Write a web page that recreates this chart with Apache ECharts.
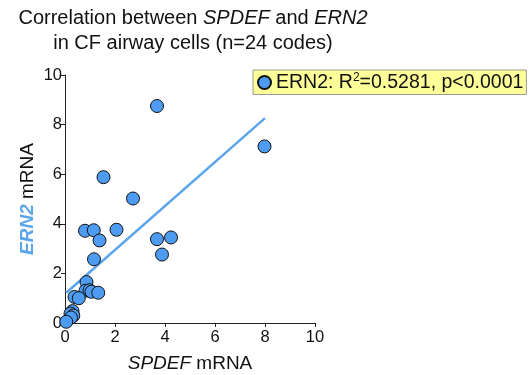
<!DOCTYPE html>
<html>
<head>
<meta charset="utf-8">
<script src="https://cdn.jsdelivr.net/npm/echarts@6/dist/echarts.min.js"></script>
<style>
  html, body { margin: 0; padding: 0; background: #fff; }
  #main { width: 529px; height: 375px; }
</style>
</head>
<body>
<div id="main"></div>
<script>
// SPDEF vs ERN2 mRNA
var spdef = [3.68, 7.98, 1.54, 2.72, 0.80, 1.15, 2.06, 1.38, 3.68, 4.24, 3.88, 1.16,
             0.86, 0.82, 0.98, 1.06, 1.33, 0.38, 0.55, 0.30, 0.22, 0.33, 0.24, 0.05];
var ern2 = [8.75, 7.12, 5.88, 5.02, 3.72, 3.74, 3.76, 3.33, 3.38, 3.45, 2.76, 2.57,
            1.65, 1.30, 1.32, 1.26, 1.22, 1.05, 1.00, 0.48, 0.38, 0.30, 0.22, 0.05];
// regression line end points
var fitX = [0.05, 8.0];
var fitY = [1.22, 8.26];
var axisTicks = [0, 2, 4, 6, 8, 10];

var font = 'Liberation Sans, Arial, sans-serif';

var points = spdef.map(function(x, i) { return [x, ern2[i]]; });
var fitLine = fitX.map(function(x, i) { return [x, fitY[i]]; });

var myChart = echarts.init(document.getElementById('main'));

var option = {
    animation: false,
    backgroundColor: '#fff',
    title: {
        text: 'Correlation between {i|SPDEF} and {i|ERN2}\nin CF airway cells (n=24 codes)',
        left: 188,
        top: 1,
        textAlign: 'center',
        textStyle: {
            fontFamily: font,
            fontSize: 20,
            fontWeight: 'normal',
            color: '#111',
            lineHeight: 25,
            rich: {
                i: { fontFamily: font, fontSize: 20, fontStyle: 'italic', color: '#111' }
            }
        }
    },
    legend: {
        data: ['ERN2'],
        left: 253,
        top: 70,
        padding: [2, 3, 2, 4],
        backgroundColor: '#ffff99',
        borderColor: '#999',
        borderWidth: 1,
        borderRadius: 0,
        itemWidth: 13,
        itemHeight: 13,
        itemGap: 4,
        icon: 'circle',
        formatter: function(name) {
            return name + ': R{sup|2}=0.5281, p<0.0001';
        },
        textStyle: {
            fontFamily: font,
            fontSize: 19.5,
            color: '#111',
            rich: {
                sup: { fontFamily: font, fontSize: 12, verticalAlign: 'bottom', padding: [0, 0, 9, 0], color: '#111' }
            }
        }
    },
    grid: {
        left: 65,
        right: 214,
        top: 75,
        bottom: 52,
        containLabel: false,
        outerBoundsMode: 'none'
    },
    xAxis: {
        type: 'value',
        min: 0,
        max: 10,
        interval: 2,
        name: '{i|SPDEF} mRNA',
        nameLocation: 'middle',
        nameGap: 31,
        nameTextStyle: {
            fontFamily: font,
            fontSize: 19,
            color: '#111',
            rich: { i: { fontFamily: font, fontSize: 19, fontStyle: 'italic', color: '#111' } }
        },
        axisLine: { show: true, onZero: false, lineStyle: { color: '#222', width: 1 } },
        axisTick: { show: true, length: 4, lineStyle: { color: '#222' } },
        axisLabel: { fontFamily: font, fontSize: 16.5, color: '#111', margin: 6 },
        splitLine: { show: false }
    },
    yAxis: {
        type: 'value',
        min: 0,
        max: 10,
        interval: 2,
        name: '{b|ERN2} mRNA',
        nameLocation: 'middle',
        nameGap: 28,
        nameTextStyle: {
            fontFamily: font,
            fontSize: 19,
            color: '#111',
            rich: { b: { fontFamily: font, fontSize: 19, fontStyle: 'italic', fontWeight: 'bold', color: '#5aa5ec' } }
        },
        axisLine: { show: true, onZero: false, lineStyle: { color: '#222', width: 1 } },
        axisTick: { show: true, length: 4, lineStyle: { color: '#222' } },
        axisLabel: { fontFamily: font, fontSize: 16.5, color: '#111', margin: 3 },
        splitLine: { show: false }
    },
    series: [{
        name: 'fit',
        type: 'line',
        data: fitLine,
        showSymbol: false,
        symbol: 'none',
        lineStyle: { color: '#5aa5ec', width: 2.5 },
        z: 1
    }, {
        name: 'ERN2',
        type: 'scatter',
        data: points,
        symbolSize: 13,
        itemStyle: { color: '#4d9cf2', borderColor: '#111', borderWidth: 1, opacity: 1 },
        z: 2
    }]
};

myChart.setOption(option);
</script>
</body>
</html>
